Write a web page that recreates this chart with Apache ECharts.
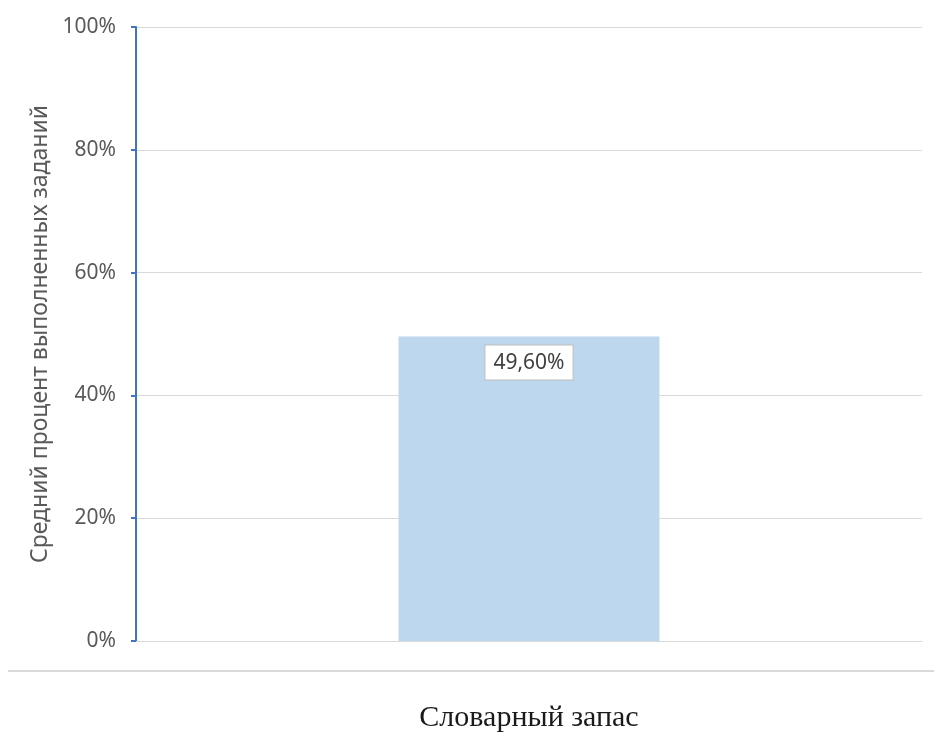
<!DOCTYPE html>
<html>
<head>
<meta charset="utf-8">
<script src="https://cdn.jsdelivr.net/npm/echarts@6/dist/echarts.min.js"></script>
<style>
  html, body { margin: 0; padding: 0; background: #fff; }
  #chart { width: 934px; height: 733px; }
</style>
</head>
<body>
<div id="chart"></div>
<script>
// Categories and values (percent of tasks completed)
var categories = ['Словарный запас'];
var values = [49.6];
var yTicks = [0, 20, 40, 60, 80, 100];
var yAxisTitle = 'Средний процент выполненных заданий';

var chart = echarts.init(document.getElementById('chart'), null, { renderer: 'canvas' });

chart.setOption({
  animation: false,
  backgroundColor: '#ffffff',
  grid: { left: 136, right: 12, top: 27, bottom: 92, containLabel: false },
  xAxis: {
    type: 'category',
    data: categories,
    axisLine: { show: true, lineStyle: { color: '#d9d9d9', width: 1 } },
    axisTick: { show: false },
    axisLabel: {
      margin: 62,
      color: '#1a1a1a',
      fontFamily: 'Liberation Serif, DejaVu Serif, serif',
      fontSize: 30
    }
  },
  yAxis: {
    type: 'value',
    min: yTicks[0],
    max: yTicks[yTicks.length - 1],
    interval: 20,
    name: yAxisTitle,
    nameLocation: 'middle',
    nameGap: 83,
    nameRotate: 90,
    nameTextStyle: { color: '#595959', fontFamily: 'Noto Sans, Open Sans, sans-serif', fontSize: 23 },
    axisLine: { show: true, lineStyle: { color: '#4472c4', width: 2 } },
    axisTick: { show: true, length: 5, lineStyle: { color: '#4472c4', width: 2 } },
    axisLabel: {
      margin: 20,
      color: '#595959',
      fontFamily: 'Noto Sans, Open Sans, sans-serif',
      fontSize: 21,
      formatter: function (v) { return v + '%'; }
    },
    splitLine: { show: true, lineStyle: { color: '#d9d9d9', width: 1 } }
  },
  series: [{
    type: 'bar',
    data: values,
    barWidth: '33.2%',
    itemStyle: { color: '#bdd7ee' },
    label: {
      show: true,
      position: 'insideTop',
      distance: 9,
      formatter: function (p) { return p.value.toFixed(2).replace('.', ',') + '%'; },
      color: '#404040',
      fontFamily: 'Noto Sans, Open Sans, sans-serif',
      fontSize: 21,
      backgroundColor: '#ffffff',
      borderColor: '#bfbfbf',
      borderWidth: 1,
      padding: [7, 8, 6, 8]
    }
  }],
  graphic: [{
    type: 'line',
    shape: { x1: 8, y1: 671, x2: 934, y2: 671 },
    style: { stroke: '#d9d9d9', lineWidth: 2 }
  }]
});
</script>
</body>
</html>
